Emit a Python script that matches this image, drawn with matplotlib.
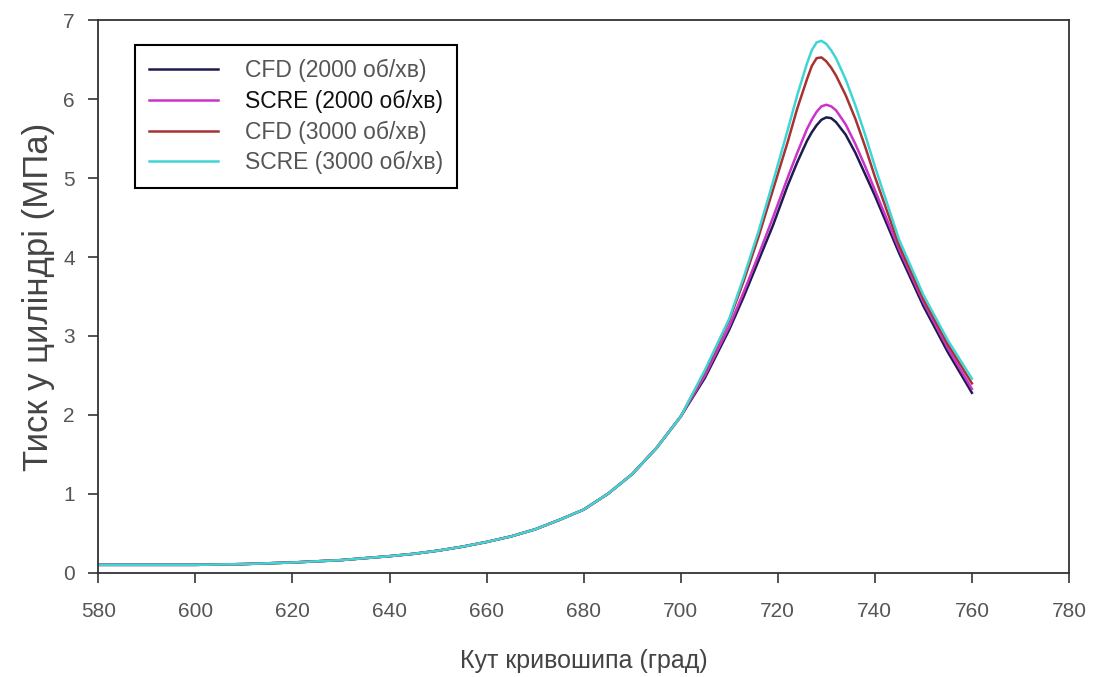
import matplotlib
matplotlib.use("Agg")
import matplotlib.pyplot as plt

plt.rcParams['font.family'] = ['Liberation Sans', 'DejaVu Sans']

angle = [580, 590, 600, 610, 620, 630, 640, 645, 650, 655, 660, 665, 670, 675,
         680, 685, 690, 695, 700, 705, 710, 713, 716, 719, 722, 724, 726, 727,
         728, 729, 730, 731, 732, 734, 736, 738, 740, 745, 750, 755, 760]

base = [0.10, 0.10, 0.10, 0.11, 0.13, 0.16, 0.21, 0.24, 0.28, 0.33, 0.39, 0.46,
        0.55, 0.67, 0.80, 1.00, 1.25, 1.58, 1.98]

cfd_2000 = base + [2.47, 3.08, 3.50, 3.95, 4.40, 4.90, 5.20, 5.47, 5.58, 5.67,
                   5.74, 5.77, 5.76, 5.71, 5.55, 5.32, 5.05, 4.78, 4.05, 3.38,
                   2.80, 2.28]
scre_2000 = base + [2.50, 3.12, 3.56, 4.02, 4.50, 5.00, 5.32, 5.62, 5.74, 5.84,
                    5.91, 5.93, 5.91, 5.86, 5.68, 5.43, 5.15, 4.85, 4.10, 3.43,
                    2.85, 2.33]
cfd_3000 = base + [2.55, 3.20, 3.70, 4.25, 4.85, 5.45, 5.88, 6.25, 6.42, 6.52,
                   6.53, 6.48, 6.40, 6.30, 6.05, 5.75, 5.40, 5.02, 4.15, 3.47,
                   2.90, 2.40]
scre_3000 = base + [2.57, 3.22, 3.75, 4.32, 4.95, 5.60, 6.05, 6.45, 6.62, 6.72,
                    6.74, 6.70, 6.62, 6.52, 6.25, 5.92, 5.55, 5.15, 4.22, 3.52,
                    2.95, 2.46]

labels = ["CFD (2000 об/хв)", "SCRE (2000 об/хв)", "CFD (3000 об/хв)", "SCRE (3000 об/хв)"]
colors = ["#1c1c50", "#cc33cc", "#a83232", "#40d4d4"]

fig = plt.figure(figsize=(10.93, 6.77), dpi=100)
ax = fig.add_axes([0.09, 0.154, 0.888, 0.816])

for y, lab, c in zip([cfd_2000, scre_2000, cfd_3000, scre_3000], labels, colors):
    ax.plot(angle, y, color=c, lw=1.8, label=lab)

ax.set_xlim(580, 780)
ax.set_ylim(0, 7)
ax.set_xticks(range(580, 781, 20))
ax.set_yticks(range(0, 8))
ax.tick_params(direction='out', length=7, width=1.2, colors='#333333',
               labelcolor='#555555', labelsize=15)
ax.tick_params(axis='x', pad=14)
ax.tick_params(axis='y', pad=10)
for s in ax.spines.values():
    s.set_color('#333333')
    s.set_linewidth(1.3)

ax.set_xlabel("Кут кривошипа (град)", fontsize=18, color='#444444', labelpad=20)
ax.set_ylabel("Тиск у циліндрі (МПа)", fontsize=25, color='#444444', labelpad=6)

leg = ax.legend(loc='upper left', bbox_to_anchor=(0.038, 0.955), borderaxespad=0,
                fontsize=16.5, handlelength=3.0, fancybox=False, framealpha=1,
                edgecolor='black', borderpad=0.6, labelspacing=0.33, handletextpad=1.2)
leg.get_frame().set_linewidth(1.5)
for i, t in enumerate(leg.get_texts()):
    t.set_color('#111111' if i == 1 else '#555555')

fig.savefig("out.png", dpi=100)
